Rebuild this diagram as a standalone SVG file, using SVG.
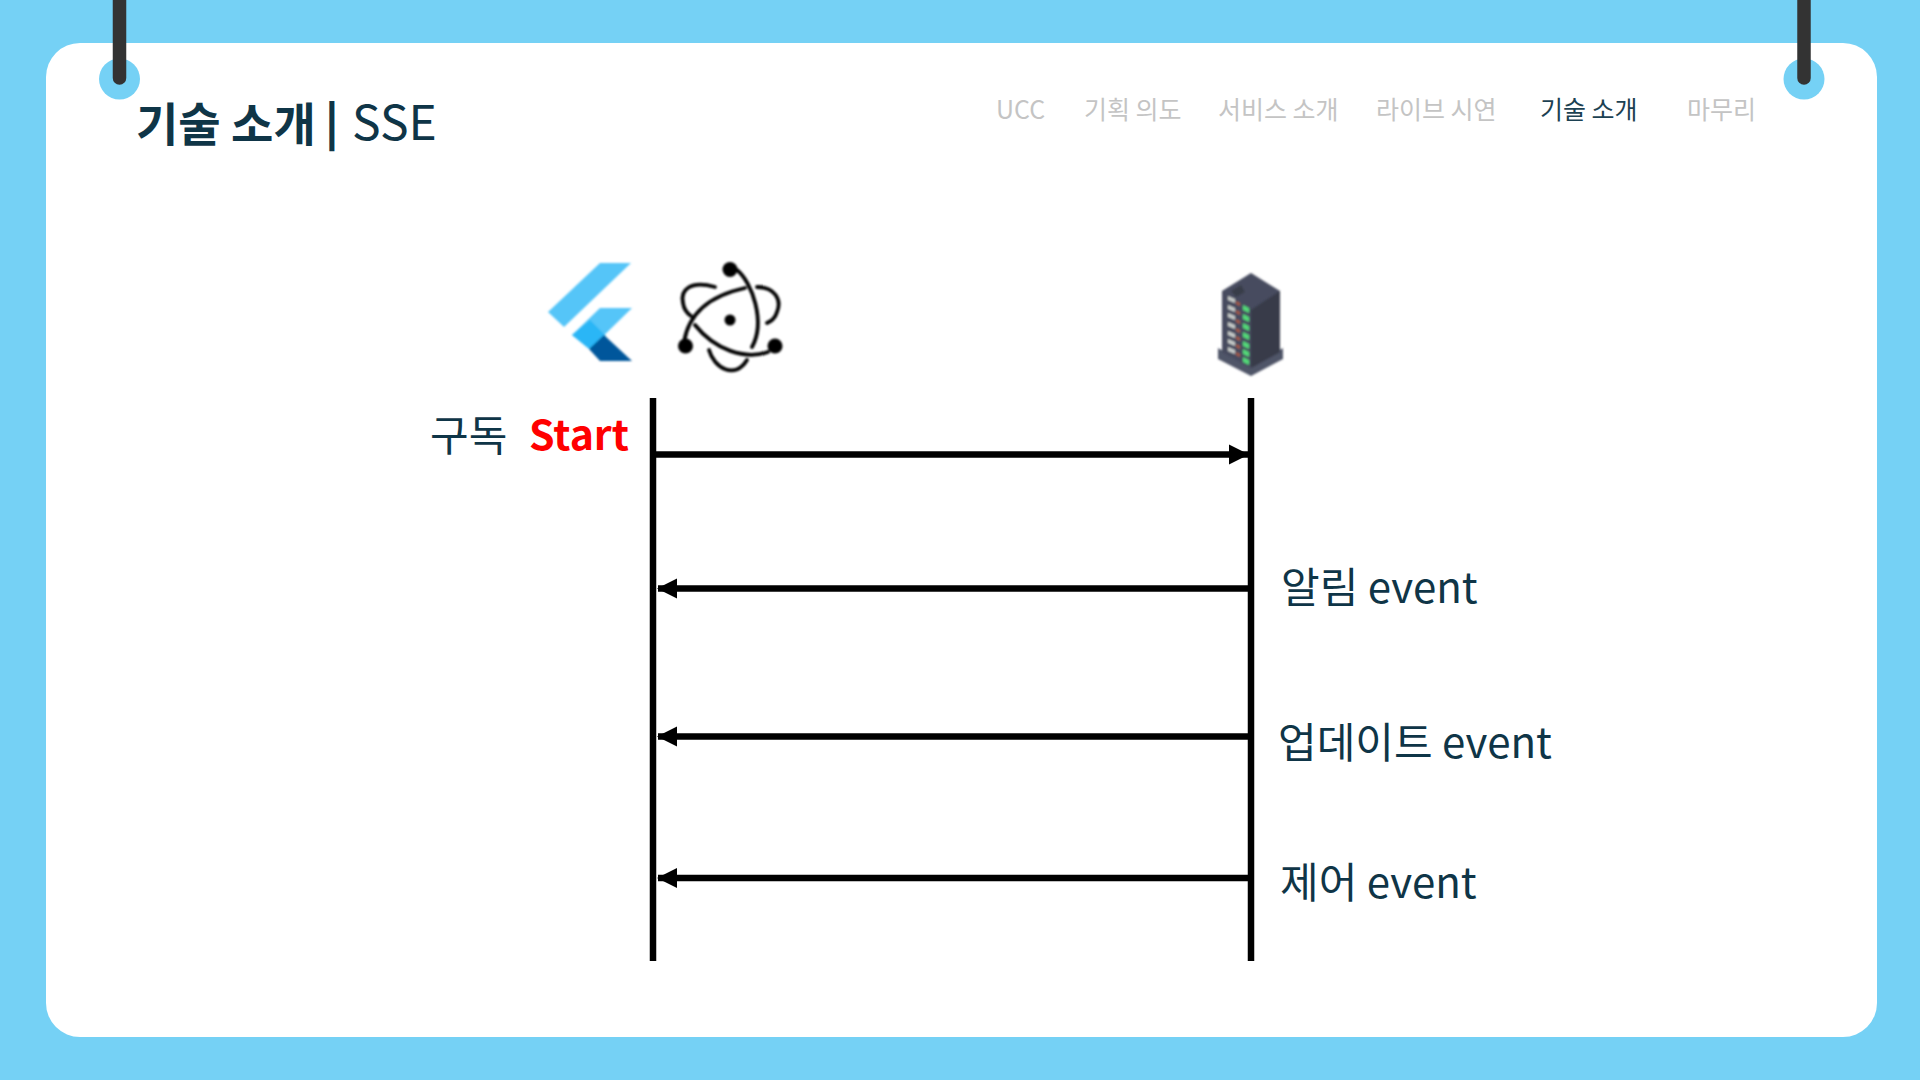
<svg xmlns="http://www.w3.org/2000/svg" width="1920" height="1080" viewBox="0 0 1920 1080">
<style>
text{font-family:"Noto Sans CJK KR","Noto Sans",sans-serif;fill:#0f3547}
.nav{font-size:25px;fill:#c4c4c4}
.lbl{font-size:42px}
.life{stroke:#000;stroke-width:6.500;fill:none}
.msg{stroke:#000;stroke-width:6.500;fill:none}
.orb{stroke:#000;stroke-width:3.800;fill:none;stroke-linecap:round}
</style>
<defs>
<marker id="ah" markerUnits="userSpaceOnUse" markerWidth="24" markerHeight="24" refX="19" refY="12" orient="auto-start-reverse"><path d="M0 2 L20 12 L0 22 Z" fill="#000"/></marker>
<filter id="soft" x="-10%" y="-10%" width="120%" height="120%"><feGaussianBlur stdDeviation="0.900"/></filter>
</defs>
<rect width="1920" height="1080" fill="#75d1f5"/>
<rect x="46" y="43" width="1831" height="994" rx="34" fill="#fff"/>
<g id="ring-left"><circle cx="119.500" cy="79" r="20.500" fill="#75d1f5"/><path d="M119.500 0V78" stroke="#333" stroke-width="13.500" stroke-linecap="round"/></g>
<g id="ring-right"><circle cx="1804" cy="79" r="20.500" fill="#75d1f5"/><path d="M1804 0V78" stroke="#333" stroke-width="13.500" stroke-linecap="round"/></g>
<g id="title">
<text x="136" y="141" font-size="46" font-weight="700">기술 소개</text>
<text x="325" y="139" font-size="44" font-weight="900">|</text>
<text x="352" y="140" font-size="48">SSE</text>
</g>
<g id="nav">
<text class="nav" x="996" y="119">UCC</text>
<text class="nav" x="1084" y="119">기획 의도</text>
<text class="nav" x="1218" y="119">서비스 소개</text>
<text class="nav" x="1376" y="119">라이브 시연</text>
<text class="nav" x="1540" y="119" style="fill:#1c4152">기술 소개</text>
<text class="nav" x="1687" y="119">마무리</text>
</g>
<g id="flutter" filter="url(#soft)">
<path d="M600 263H631L564 327L548 312Z" fill="#54c5f8"/>
<path d="M600 308H632L590 349L572 335Z" fill="#54c5f8"/>
<path d="M572 335L590 320L606 336L589 349Z" fill="#29b6f6"/>
<path d="M589 349L604 335L632 361H600Z" fill="#01579b"/>
</g>
<g id="electron" filter="url(#soft)">
<circle cx="730" cy="269.500" r="7.500"/><circle cx="685.500" cy="346" r="7.500"/><circle cx="775" cy="346" r="7.500"/>
<circle cx="730" cy="320" r="5.500"/>
<path class="orb" d="M737 270C752 282 766 322 752 347"/>
<path class="orb" d="M684 342C690 305 722 293 745 288"/>
<path class="orb" d="M695 325C715 350 745 360 768 352"/>
<path class="orb" d="M715 287C690 280 680 290 683 303C684 310 688 314 691 316"/>
<path class="orb" d="M757 287C775 287 782 300 777 312C775 319 771 321 767 323"/>
<path class="orb" d="M709 350C714 368 735 380 747 360"/>
</g>
<g id="server" filter="url(#soft)">
<path d="M1218 348L1251 367L1283 348V359L1251 376L1218 359Z" fill="#4f5468"/>
<path d="M1251 273L1280 291V352L1251 368L1222 352V291Z" fill="#474b5e"/>
<path d="M1251 310L1280 291V352L1251 368Z" fill="#373b49"/>
<path d="M1231 291L1241 285L1245 292L1236 297Z" fill="#393d4a"/>
<g fill="#c7cbc9"><path d="M1228 296l7 3v4l-7-3zM1228 305l7 3v4l-7-3zM1228 313l7 3v4l-7-3zM1228 322l7 3v4l-7-3zM1228 331l7 3v4l-7-3zM1228 339l7 3v4l-7-3zM1228 347l7 3v4l-7-3z"/></g>
<g fill="#52d878"><path d="M1243 305l6 3v5l-6-3zM1243 314l6 3v5l-6-3zM1243 323l6 3v5l-6-3zM1243 332l6 3v5l-6-3zM1243 341l6 3v5l-6-3zM1243 349l6 3v5l-6-3zM1243 357l6 3v5l-6-3z"/></g>
<g fill="#a65a45"><path d="M1236 301l4 2v3l-4-2zM1236 310l4 2v3l-4-2zM1236 319l4 2v3l-4-2zM1236 328l4 2v3l-4-2zM1236 336l4 2v3l-4-2zM1236 344l4 2v3l-4-2zM1236 352l4 2v3l-4-2z"/></g>
</g>
<g id="connectors">
<path class="life" d="M653 398V961"/>
<path class="life" d="M1251 398V961"/>
<path class="msg" d="M656 454.500H1248" marker-end="url(#ah)"/>
<path class="msg" d="M1249 588.500H658" marker-end="url(#ah)"/>
<path class="msg" d="M1249 736.500H658" marker-end="url(#ah)"/>
<path class="msg" d="M1249 878H658" marker-end="url(#ah)"/>
</g>
<g id="labels">
<text class="lbl" x="430" y="451">구독</text>
<text class="lbl" x="529" y="450" style="font-size:41px;font-weight:700;fill:#ff0000">Start</text>
<text class="lbl" x="1281" y="603">알림 event</text>
<text class="lbl" x="1278" y="758">업데이트 event</text>
<text class="lbl" x="1280" y="898">제어 event</text>
</g>
</svg>
